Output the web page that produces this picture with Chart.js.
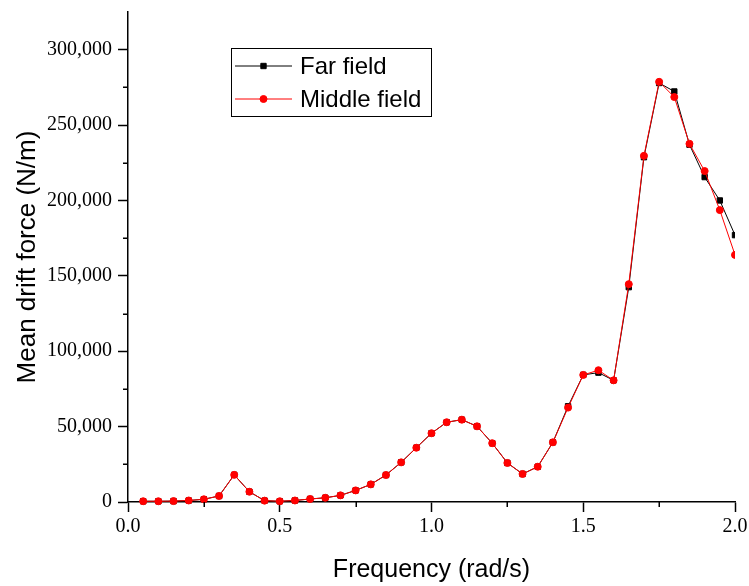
<!DOCTYPE html>
<html>
<head>
<meta charset="utf-8">
<script src="https://cdn.jsdelivr.net/npm/chart.js@4.4.1/dist/chart.umd.min.js"></script>
<style>
html,body{margin:0;padding:0;background:#fff;}
#wrap{width:749px;height:586px;position:relative;}
</style>
</head>
<body>
<div id="wrap"><canvas id="c" width="749" height="586"></canvas></div>
<script>
// ---- data ----
const frequency = [0.05,0.10,0.15,0.20,0.25,0.30,0.35,0.40,0.45,0.50,
                   0.55,0.60,0.65,0.70,0.75,0.80,0.85,0.90,0.95,1.00,
                   1.05,1.10,1.15,1.20,1.25,1.30,1.35,1.40,1.45,1.50,
                   1.55,1.60,1.65,1.70,1.75,1.80,1.85,1.90,1.95,2.00];
const farField = [500,500,600,1000,1800,4000,18000,6800,900,500,
                  1000,2000,2800,4400,7700,11700,17900,26300,36000,45600,
                  52900,54600,50200,39000,25900,18600,23400,39600,63500,84300,
                  85800,80700,142500,228700,277900,272300,237000,215500,200000,177000];
const middleField = [500,500,600,1000,1800,4000,18000,6800,900,500,
                     1000,2000,2800,4400,7700,11700,17900,26300,36000,45600,
                     52900,54600,50200,39000,25900,18600,23400,39600,62600,84300,
                     87400,80700,144500,229600,278700,268600,237600,219500,193600,163900];
const seriesNames = ['Far field','Middle field'];
const xTickValues = [0, 0.5, 1.0, 1.5, 2.0];
const xTickLabels = ['0.0','0.5','1.0','1.5','2.0'];
const xMinorTicks = [0.25, 0.75, 1.25, 1.75];
const yTickValues = [0,50000,100000,150000,200000,250000,300000];
const yTickLabels = ['0','50,000','100,000','150,000','200,000','250,000','300,000'];
const yMinorTicks = [25000,75000,125000,175000,225000,275000];

function toPoints(ys){ return frequency.map((f,i)=>({x:f,y:ys[i]})); }
function near(a,b){ return Math.abs(a-b) < 1e-6 * Math.max(1,Math.abs(b)); }
function labelFor(v, vals, labs){
  for (let i=0;i<vals.length;i++) if (near(v,vals[i])) return labs[i];
  return '';
}

const AX = '#000';
const tickFont = {family:'"Liberation Serif", "Times New Roman", serif', size:20};
const titleFontFamily = '"Liberation Sans", Arial, sans-serif';

const insideLegend = {
  id:'insideLegend',
  afterDatasetsDraw(chart, args, opts){
    const ctx = chart.ctx;
    ctx.save();
    ctx.lineWidth = 1;
    ctx.strokeStyle = '#000';
    ctx.strokeRect(opts.x + 0.5, opts.y + 0.5, opts.w, opts.h);
    ctx.font = opts.fontSize + 'px ' + titleFontFamily;
    ctx.textBaseline = 'middle';
    ctx.textAlign = 'left';
    chart.data.datasets.forEach((ds, i) => {
      const ly = opts.y + opts.rowTop + i * opts.rowGap;
      ctx.strokeStyle = ds.borderColor;
      ctx.lineWidth = 1;
      ctx.beginPath();
      ctx.moveTo(opts.x + opts.lineX0, ly);
      ctx.lineTo(opts.x + opts.lineX1, ly);
      ctx.stroke();
      const mx = opts.x + (opts.lineX0 + opts.lineX1) / 2;
      ctx.fillStyle = ds.pointBackgroundColor;
      ctx.strokeStyle = ds.pointBorderColor;
      ctx.beginPath();
      if (ds.pointStyle === 'rect') {
        const s = Math.SQRT1_2 * ds.pointRadius;
        ctx.rect(mx - s, ly - s, 2*s, 2*s);
      } else {
        ctx.arc(mx, ly, ds.pointRadius, 0, Math.PI*2);
      }
      ctx.fill(); ctx.stroke();
      ctx.fillStyle = '#000';
      ctx.fillText(ds.label, opts.x + opts.textX, ly + 1);
    });
    ctx.restore();
  }
};

// short minor ticks placed through the scales
const minorTicks = {
  id:'minorTicks',
  afterDraw(chart, args, opts){
    const ctx = chart.ctx, xs = chart.scales.x, ys = chart.scales.y;
    ctx.save();
    ctx.strokeStyle = '#000';
    ctx.lineWidth = 1.5;
    ctx.beginPath();
    xMinorTicks.forEach(v => {
      const px = Math.round(xs.getPixelForValue(v)) + 0.25;
      ctx.moveTo(px, xs.top); ctx.lineTo(px, xs.top + opts.len);
    });
    yMinorTicks.forEach(v => {
      const py = Math.round(ys.getPixelForValue(v)) + 0.25;
      ctx.moveTo(ys.right, py); ctx.lineTo(ys.right - opts.len, py);
    });
    ctx.stroke();
    ctx.restore();
  }
};

new Chart(document.getElementById('c'), {
  type:'line',
  data:{
    datasets:[
      {
        label: seriesNames[0],
        data: toPoints(farField),
        borderColor:'#000', backgroundColor:'#000',
        pointBackgroundColor:'#000', pointBorderColor:'#000',
        pointStyle:'rect', pointRadius:3.8, pointBorderWidth:1,
        borderWidth:1, tension:0, order:2,
        clip:{left:6, top:6, right:0, bottom:6}
      },
      {
        label: seriesNames[1],
        data: toPoints(middleField),
        borderColor:'#ff0000', backgroundColor:'#ff0000',
        pointBackgroundColor:'#ff0000', pointBorderColor:'#ff0000',
        pointStyle:'circle', pointRadius:3.5, pointBorderWidth:1,
        borderWidth:1, tension:0, order:1,
        clip:{left:6, top:6, right:0, bottom:6}
      }
    ]
  },
  options:{
    responsive:false,
    animation:false,
    devicePixelRatio:1,
    layout:{padding:{top:12, right:14, bottom:0, left:0}},
    plugins:{
      legend:{display:false},
      tooltip:{enabled:false},
      insideLegend:{x:231, y:48, w:200, h:68, rowTop:18, rowGap:33, lineX0:4, lineX1:61, textX:69, fontSize:24},
      minorTicks:{len:5}
    },
    scales:{
      x:{
        type:'linear', min:0, max:2,
        afterFit(s){ s.height = 84; s.paddingRight = 0; s.paddingLeft = 0; },
        afterBuildTicks(s){ s.ticks = xTickValues.map(v=>({value:v})); },
        ticks:{
          autoSkip:false, maxRotation:0, minRotation:0,
          color:'#000', font:tickFont, padding:3,
          callback:(v)=>labelFor(v, xTickValues, xTickLabels)
        },
        grid:{
          drawOnChartArea:false, drawTicks:true, tickLength:10,
          tickColor:'#000', tickWidth:1.5
        },
        border:{display:true, color:AX, width:1.5},
        title:{display:true, text:'Frequency (rad/s)', color:'#000',
               font:{family:titleFontFamily, size:25}, padding:{top:0,bottom:1}}
      },
      y:{
        type:'linear', min:0, max:325000,
        afterFit(s){ s.width = 128; s.paddingTop = 0; s.paddingBottom = 0; },
        afterBuildTicks(s){ s.ticks = yTickValues.map(v=>({value:v})); },
        ticks:{
          autoSkip:false, color:'#000', font:tickFont, padding:6,
          callback:(v)=>labelFor(v, yTickValues, yTickLabels)
        },
        grid:{
          drawOnChartArea:false, drawTicks:true, tickLength:10,
          tickColor:'#000', tickWidth:1.5
        },
        border:{display:true, color:AX, width:1.5},
        title:{display:true, text:'Mean drift force (N/m)', color:'#000',
               font:{family:titleFontFamily, size:26}, padding:{top:12,bottom:0}}
      }
    }
  },
  plugins:[insideLegend, minorTicks]
});
</script>
</body>
</html>
